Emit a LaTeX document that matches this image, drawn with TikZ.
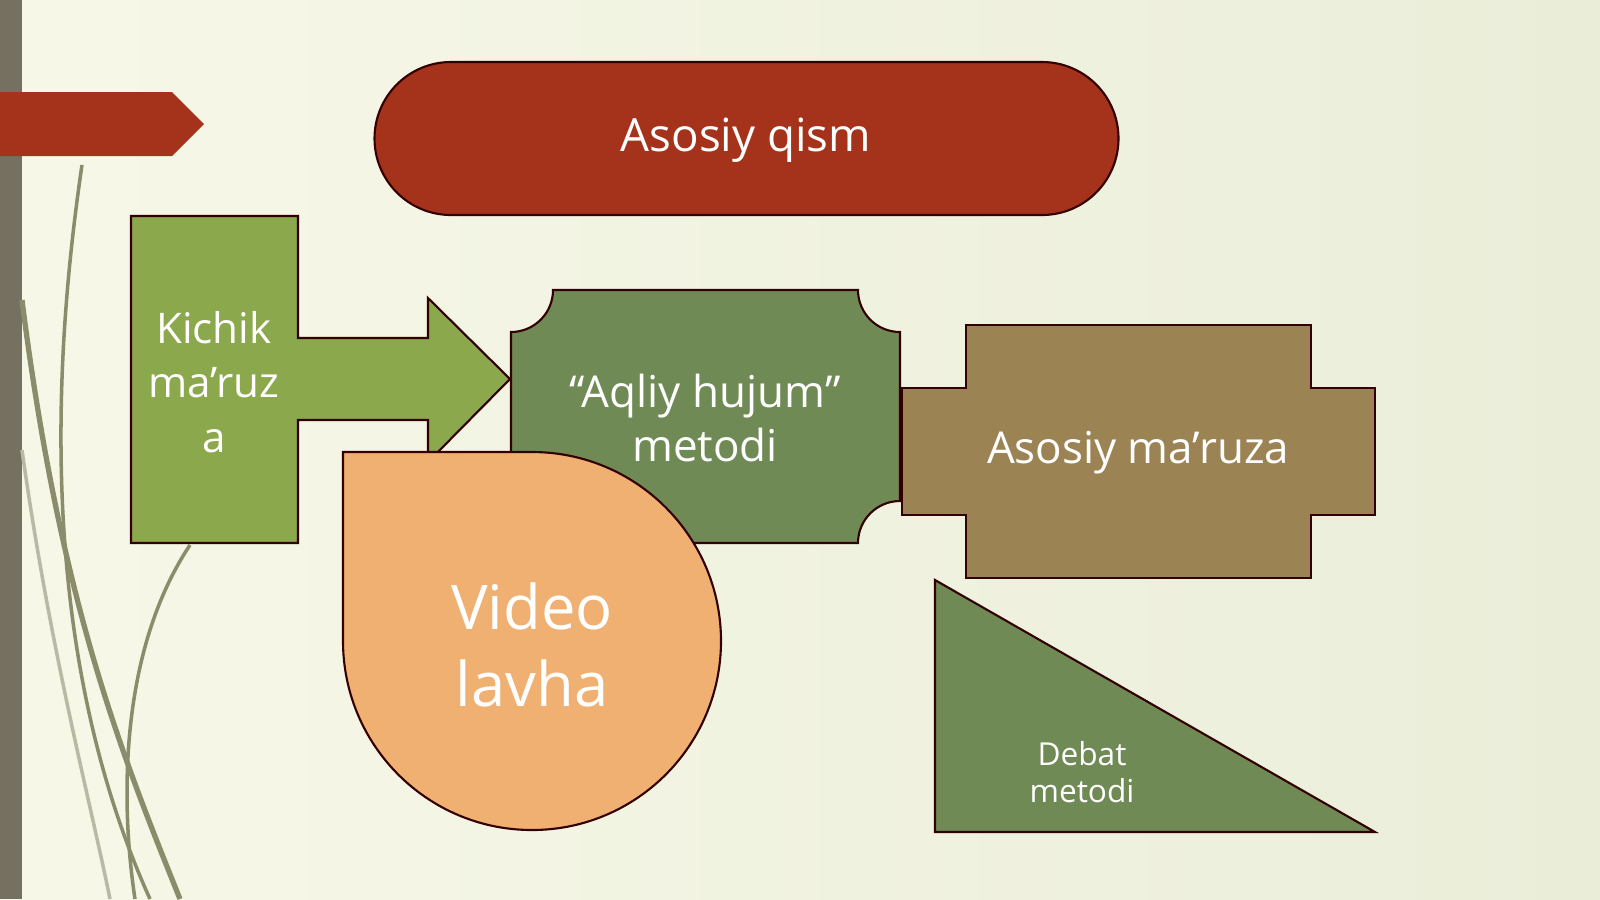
\documentclass[tikz,border=0pt]{standalone}
\usepackage{fontspec}
\setmainfont{Open Sans}
\usetikzlibrary{positioning}
\definecolor{redbox}{HTML}{A5321A}
\definecolor{leafgreen}{HTML}{8CA84C}
\definecolor{olivebox}{HTML}{708A55}
\definecolor{brownbox}{HTML}{9C8354}
\definecolor{peachbox}{HTML}{F0B072}
\definecolor{sidebar}{HTML}{767060}
\definecolor{curve}{HTML}{8A8C6A}
\tikzset{
  box/.style={draw=black!80!red, line width=0.6pt},
  lbl/.style={text=white, align=center}
}
\begin{document}
\begin{tikzpicture}[x=0.01cm,y=-0.01cm]
    \useasboundingbox (0,0) rectangle (1600,899);
    % Background
    \shade[left color=white!94!olive, right color=green!10!olive!15] (0,0) rectangle (1600,899);
    \fill[sidebar] (0,0) rectangle (22,899);
    % Decorative curves
    \draw[curve, line width=1pt] (82,165) .. controls (40,450) and (60,700) .. (150,899);
    \draw[curve, line width=1.5pt] (22,300) .. controls (60,600) and (120,750) .. (180,899);
    \draw[curve, line width=1pt] (190,545) .. controls (120,650) and (120,800) .. (135,899);
    \draw[curve!60, line width=1pt] (22,450) .. controls (50,650) and (90,800) .. (110,899);
    % Red tab
    \fill[redbox] (0,92) -- (172,92) -- (204,124) -- (172,156) -- (0,156) -- cycle;
    % Title
    \draw[box, fill=redbox] (451,62) -- (1042,62) arc[start angle=-90, end angle=90, radius=76.5]
        -- (451,215) arc[start angle=90, end angle=270, radius=76.5] -- cycle;
    \node[lbl, font=\fontsize{13}{15}\selectfont] (title) at (746,140) {Asosiy qism};
    % Kichik ma'ruza arrow
    \draw[box, fill=leafgreen] (131,216) -- (298,216) -- (298,338) -- (428,338) -- (428,298)
        -- (510,379) -- (428,462) -- (428,420) -- (298,420) -- (298,543) -- (131,543) -- cycle;
    \node[lbl, font=\fontsize{12}{15.5}\selectfont] (kichik) at (214,382) {Kichik\\ma’ruz\\a};
    % Aqliy hujum plaque
    \draw[box, fill=olivebox] (553,290) -- (858,290) arc[start angle=180, end angle=90, radius=42]
        -- (900,501) arc[start angle=-90, end angle=-180, radius=42]
        -- (553,543) arc[start angle=0, end angle=-90, radius=42]
        -- (511,332) arc[start angle=90, end angle=0, radius=42] -- cycle;
    \node[lbl, font=\fontsize{12.5}{15.5}\selectfont] (aqliy) at (705,418) {“Aqliy hujum”\\metodi};
    % Asosiy ma'ruza cross
    \draw[box, fill=brownbox] (966,325) -- (1311,325) -- (1311,388) -- (1375,388) -- (1375,515)
        -- (1311,515) -- (1311,578) -- (966,578) -- (966,515) -- (902,515) -- (902,388)
        -- (966,388) -- cycle;
    \node[lbl, font=\fontsize{12.5}{15}\selectfont] (asosiy) at (1138,453) {Asosiy ma’ruza};
    % Video lavha teardrop
    \draw[box, fill=peachbox] (343,452) -- (532,452) arc[start angle=-90, end angle=180, radius=189] -- cycle;
    \node[lbl, font=\fontsize{17.5}{22}\selectfont] (video) at (532,645) {Video\\lavha};
    % Debat triangle
    \draw[box, fill=olivebox] (935,580) -- (1375,832) -- (935,832) -- cycle;
    \node[lbl, font=\fontsize{9}{10.5}\selectfont] (debat) at (1082,772) {Debat\\metodi};
\end{tikzpicture}
\end{document}
